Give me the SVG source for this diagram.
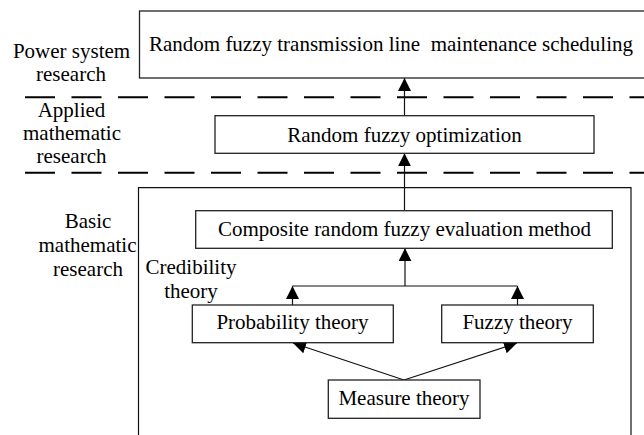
<svg xmlns="http://www.w3.org/2000/svg" width="644" height="435" viewBox="0 0 644 435">
<style>
  text { font-family: "Liberation Serif", "Times New Roman", serif; font-size: 21px; fill: #000; }
  .c { text-anchor: middle; }
  .box { fill: #fff; stroke: #222; stroke-width: 1.3; }
  .ln { fill: none; stroke: #111; stroke-width: 1.2; }
  .dash { fill: none; stroke: #000; stroke-width: 2; stroke-dasharray: 30 16.5; }
</style>
<defs>
  <marker id="ah" markerWidth="14" markerHeight="14" refX="13" refY="6.5" orient="auto" markerUnits="userSpaceOnUse">
    <path d="M0,0 L13,6.5 L0,13 z" fill="#000"/>
  </marker>
</defs>
<rect width="644" height="435" fill="#fff"/>

<g id="layers">
  <path class="dash" d="M25,97.3 H644"/>
  <path class="dash" d="M25,172.8 H644"/>
  <path class="ln" d="M138.5,440 V187.7 H631 V440" stroke-width="1.3"/>
  <text class="c" x="71.5" y="58">Power system</text>
  <text class="c" x="71" y="80.5">research</text>
  <text class="c" x="71.5" y="117">Applied</text>
  <text class="c" x="72" y="140">mathematic</text>
  <text class="c" x="71.5" y="163">research</text>
  <text class="c" x="88" y="228">Basic</text>
  <text class="c" x="87.5" y="251.5">mathematic</text>
  <text class="c" x="88" y="275.5">research</text>
  <text class="c" x="191" y="274">Credibility</text>
  <text class="c" x="191" y="298">theory</text>
</g>

<g id="connectors">
  <path class="ln" d="M404.5,115.7 V78" marker-end="url(#ah)"/>
  <path class="ln" d="M404.5,210.7 V153.3" marker-end="url(#ah)"/>
  <path class="ln" d="M405,286 V248.3" marker-end="url(#ah)"/>
  <path class="ln" d="M292.5,286 H517.5"/>
  <path class="ln" d="M292.5,305 V286" marker-end="url(#ah)"/>
  <path class="ln" d="M517.5,305 V286" marker-end="url(#ah)"/>
  <path class="ln" d="M404,380 L293,343" marker-end="url(#ah)"/>
  <path class="ln" d="M404,380 L517,343" marker-end="url(#ah)"/>
</g>

<g id="node-maintenance">
  <rect class="box" x="139.5" y="11" width="506" height="67"/>
  <text class="c" x="391" y="51" xml:space="preserve">Random fuzzy transmission line  maintenance scheduling</text>
</g>
<g id="node-optimization">
  <rect class="box" x="215" y="115.7" width="379" height="37.6"/>
  <text class="c" x="404.5" y="141.7">Random fuzzy optimization</text>
</g>
<g id="node-composite">
  <rect class="box" x="195.7" y="210.7" width="416.6" height="37.6"/>
  <text class="c" x="404.5" y="235.5">Composite random fuzzy evaluation method</text>
</g>
<g id="node-probability">
  <rect class="box" x="192.3" y="305" width="201" height="37.7"/>
  <text class="c" x="292.5" y="329">Probability theory</text>
</g>
<g id="node-fuzzy">
  <rect class="box" x="441.7" y="305" width="151.6" height="37.7"/>
  <text class="c" x="517.5" y="329">Fuzzy theory</text>
</g>
<g id="node-measure">
  <rect class="box" x="328.3" y="380" width="151.7" height="38.3"/>
  <text class="c" x="404" y="405">Measure theory</text>
</g>
</svg>
